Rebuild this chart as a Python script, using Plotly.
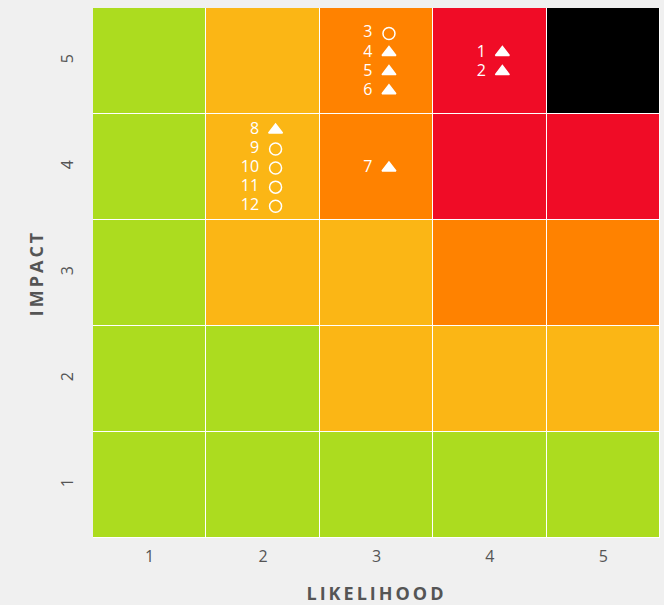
import plotly.graph_objects as go
from collections import defaultdict

# ---- data ----
likelihood_levels = [1, 2, 3, 4, 5]
impact_levels = [1, 2, 3, 4, 5]
# risk level per cell, rows = impact 1..5, cols = likelihood 1..5
risk_grid = [
    [0, 0, 0, 0, 0],
    [0, 0, 1, 1, 1],
    [0, 1, 1, 2, 2],
    [0, 1, 2, 3, 3],
    [0, 1, 2, 3, 4],
]
level_colors = ["#acdc1f", "#fbb615", "#ff8200", "#f00c26", "#000000"]

risk_ids = [1, 2, 3, 4, 5, 6, 7, 8, 9, 10, 11, 12]
risk_likelihood = [4, 4, 3, 3, 3, 3, 3, 2, 2, 2, 2, 2]
risk_impact = [5, 5, 5, 5, 5, 5, 4, 4, 4, 4, 4, 4]
risk_symbol = ["triangle-up", "triangle-up", "circle-open", "triangle-up", "triangle-up",
               "triangle-up", "triangle-up", "triangle-up", "circle-open", "circle-open",
               "circle-open", "circle-open"]

# ---- layout helpers: stack risks inside each cell ----
groups = defaultdict(list)
for i, (lx, iy) in enumerate(zip(risk_likelihood, risk_impact)):
    groups[(lx, iy)].append(i)
px, py = [None] * len(risk_ids), [None] * len(risk_ids)
spacing = 0.18
for (lx, iy), idxs in groups.items():
    n = len(idxs)
    for k, i in enumerate(idxs):
        px[i] = lx + 0.11
        py[i] = iy + (n - 1) / 2 * spacing - k * spacing - 0.01
tx = [x - 0.145 for x in px]

n_lv = len(level_colors)
colorscale = []
for k, c in enumerate(level_colors):
    colorscale.append([k / n_lv, c])
    colorscale.append([(k + 1) / n_lv, c])

fig = go.Figure()
fig.add_trace(go.Heatmap(
    x=likelihood_levels, y=impact_levels, z=risk_grid,
    colorscale=colorscale, zmin=-0.5, zmax=n_lv - 0.5,
    showscale=False, xgap=1, ygap=1, hoverinfo="skip",
))
fig.add_trace(go.Scatter(
    x=px, y=py, mode="markers",
    marker=dict(symbol=risk_symbol, size=12, color="white",
                line=dict(color="white", width=1.5)),
    showlegend=False, cliponaxis=False, hoverinfo="skip",
))
fig.add_trace(go.Scatter(
    x=tx, y=py, mode="text",
    text=[str(r) for r in risk_ids], textposition="middle left",
    textfont=dict(family="Open Sans", size=16, color="white"),
    showlegend=False, cliponaxis=False,
))

def spaced(s):
    return '<span style="letter-spacing:3px"><b>' + s + '</b></span>'

fig.update_layout(
    width=664, height=605,
    margin=dict(l=93, r=4, t=8, b=67),
    paper_bgcolor="#f0f0f0", plot_bgcolor="#ffffff",
    font=dict(family="Open Sans", color="#555555"),
    xaxis=dict(
        range=[0.5, 5.5], tickvals=likelihood_levels, showgrid=False, zeroline=False,
        ticks="outside", ticklen=4, tickcolor="rgba(0,0,0,0)",
        tickfont=dict(size=16, color="#555555"),
        title=dict(text=spaced("LIKELIHOOD"), standoff=22,
                   font=dict(size=18, color="#555555")),
    ),
    yaxis=dict(
        range=[0.5, 5.5], tickvals=impact_levels, showgrid=False, zeroline=False,
        tickangle=-90, ticks="outside", ticklen=13, tickcolor="rgba(0,0,0,0)",
        tickfont=dict(size=16, color="#555555"),
        title=dict(text=spaced("IMPACT"), standoff=7,
                   font=dict(size=18, color="#555555")),
    ),
)
fig.write_html("out.html")
